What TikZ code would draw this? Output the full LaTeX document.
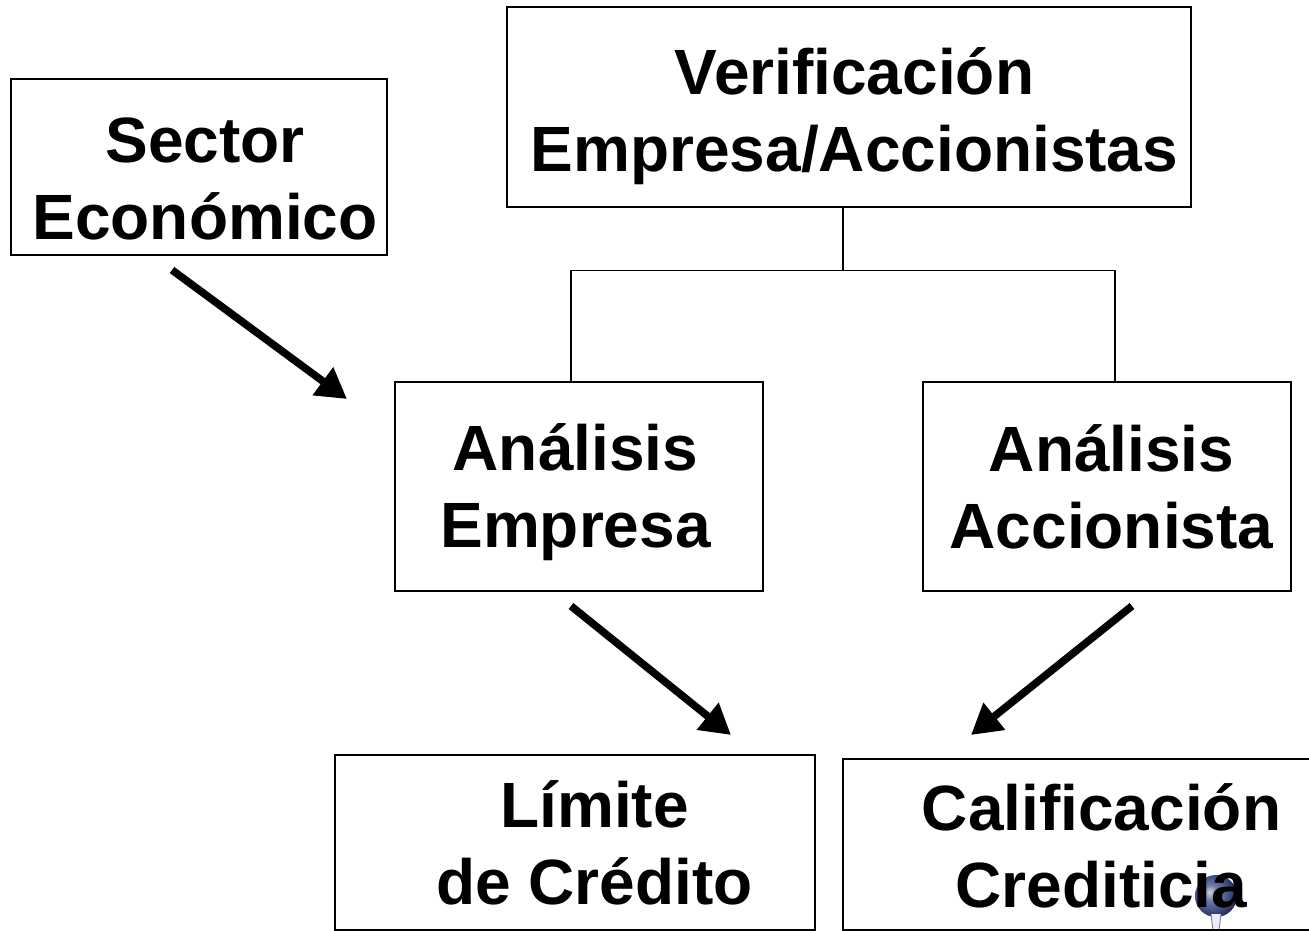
\documentclass[tikz,border=0pt]{standalone}
\usepackage{fontspec}
\setmainfont{Liberation Sans}
\usetikzlibrary{arrows.meta,shadings}
\definecolor{pinlight}{RGB}{205,210,225}
\definecolor{pinmid}{RGB}{110,125,170}
\definecolor{pindark}{RGB}{58,72,125}
\definecolor{pinedge}{RGB}{40,45,85}
\pgfdeclareradialshading{pinball}{\pgfpoint{-8bp}{5bp}}{
  color(0bp)=(pinlight); color(9bp)=(pinmid); color(22bp)=(pindark); color(27bp)=(pinedge); color(50bp)=(pinedge)}
\tikzset{
  box/.style={draw=black,line width=1.4pt,fill=none,anchor=north west,inner sep=0pt,outer sep=0pt},
  lbl/.style={font=\fontsize{64}{77}\selectfont\bfseries,align=center,text=black,inner sep=0pt},
  link/.style={draw=black,line width=1.4pt},
  flow/.style={draw=black,line width=7.6pt,-{Triangle[length=30pt,width=33pt]}}
}
\begin{document}
\begin{tikzpicture}[x=1pt,y=-1pt]
\useasboundingbox (0,0) rectangle (1309,931);
\clip (0,0) rectangle (1309,931);
% push pin
\shade[shading=pinball] (1216,896) circle (21);
\fill[white!92!blue] (1211,914) -- (1221,914) -- (1219,931) -- (1213,931) -- cycle;
\draw[gray,line width=.9pt] (1211,914) -- (1213,931) (1221,914) -- (1219,931);
% boxes
\node[box,minimum width=684pt,minimum height=200pt] (verif) at (507,7) {};
\node[box,minimum width=376pt,minimum height=176pt] (sector) at (11,79) {};
\node[box,minimum width=368pt,minimum height=209pt] (empresa) at (395,382) {};
\node[box,minimum width=368pt,minimum height=209pt] (accion) at (923,382) {};
\node[box,minimum width=480pt,minimum height=175pt] (limite) at (335,755) {};
\node[box,minimum width=480pt,minimum height=171pt] (calif) at (843,759) {};
% labels
\node[lbl] (tverif) at (854.5,116) {Verificación\\Empresa/Accionistas};
\node[lbl] (tsector) at (205,179) {Sector\\Económico};
\node[lbl] (tempresa) at (575.5,492) {Análisis\\Empresa};
\node[lbl] (taccion) at (1111.5,487) {Análisis\\Accionista};
\node[lbl] (tlimite) at (594.5,843) {Límite\\de Crédito};
\node[lbl] (tcalif) at (1101.5,846) {Calificación\\Crediticia};
% tree connectors
\coordinate (j) at (843,270.5);
\coordinate (jl) at (571,270.5);
\coordinate (jr) at (1115,270.5);
\draw[link] (verif.south west -| j) -- (j);
\draw[link] (empresa.north west -| jl) -- (jl) -- (jr) -- (accion.north west -| jr);
% arrows
\coordinate (a1s) at (172,270); \coordinate (a1e) at (347,399);
\coordinate (a2s) at (571,606); \coordinate (a2e) at (731,735);
\coordinate (a3s) at (1132,606); \coordinate (a3e) at (971,735);
\draw[flow] (a1s) -- (a1e);
\draw[flow] (a2s) -- (a2e);
\draw[flow] (a3s) -- (a3e);
\end{tikzpicture}
\end{document}
